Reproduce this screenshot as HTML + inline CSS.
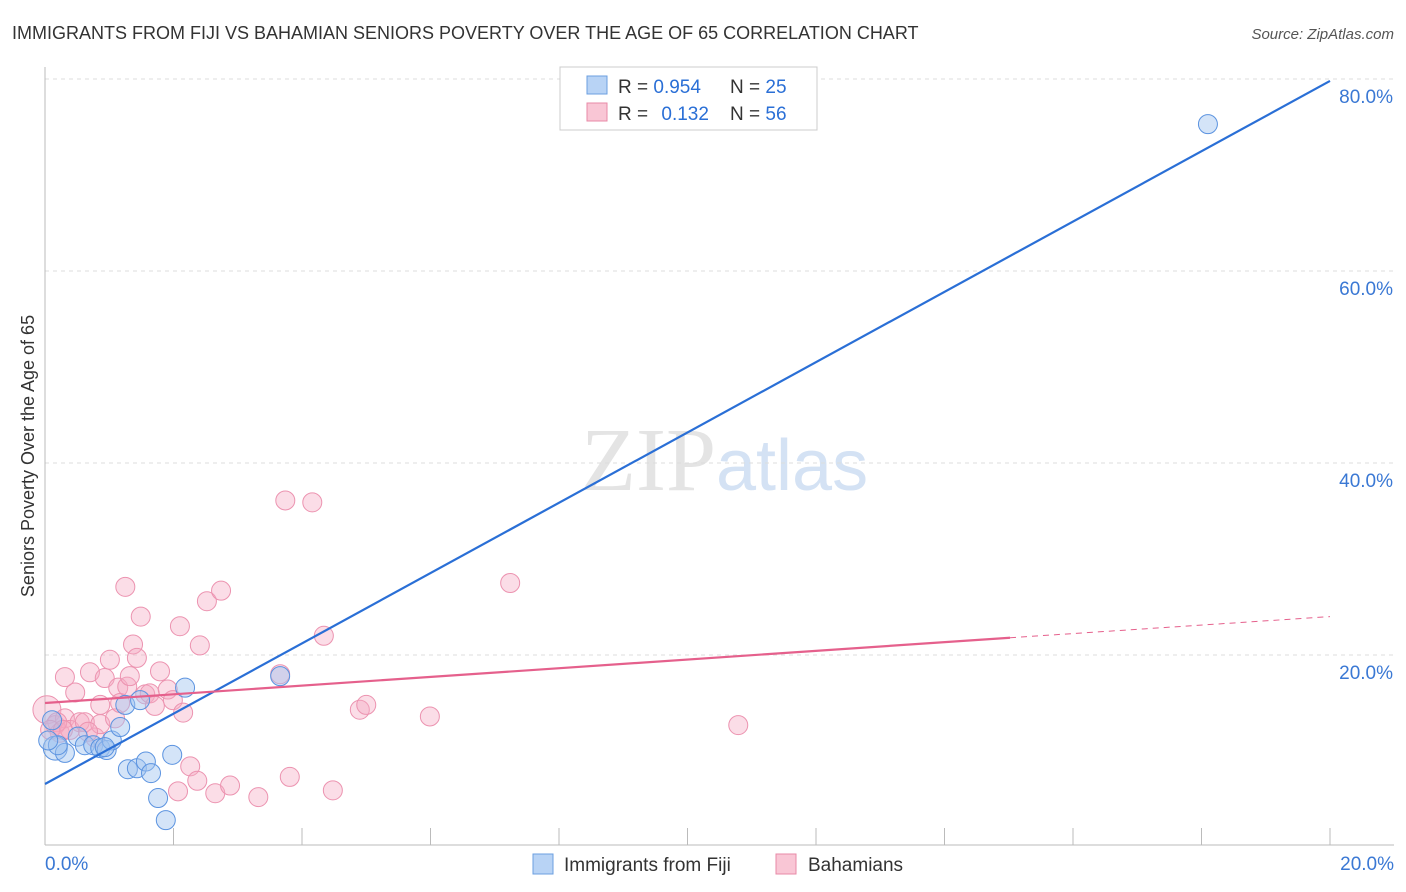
<!DOCTYPE html>
<html><head><meta charset="utf-8"><style>
body{margin:0;background:#fff;font-family:"Liberation Sans",sans-serif;}
svg{display:block}
</style></head><body>
<svg id="c" width="1406" height="892">
<text x="12" y="39" font-size="18" fill="#333">IMMIGRANTS FROM FIJI VS BAHAMIAN SENIORS POVERTY OVER THE AGE OF 65 CORRELATION CHART</text>
<text x="1394" y="39" font-size="15" fill="#555" font-style="italic" text-anchor="end">Source: ZipAtlas.com</text>
<text x="34" y="456" font-size="18" fill="#333" text-anchor="middle" transform="rotate(-90 34 456)">Seniors Poverty Over the Age of 65</text>
<text x="716" y="490" font-size="90" fill="#e4e4e4" text-anchor="end" font-family="Liberation Serif,serif">ZIP</text>
<text x="716" y="490" font-size="72" fill="#d4e2f4">atlas</text>
<g id="grid"></g><g id="pts"></g><g id="lines"></g>
<g>
<rect x="560" y="67" width="257" height="63" fill="#fff" stroke="#ccc"/>
<rect x="587" y="76" width="20" height="18" fill="#b8d3f5" stroke="#6b9fe0"/>
<rect x="587" y="103" width="20" height="18" fill="#f9c6d5" stroke="#e88aa7"/>
<text x="618" y="93" font-size="19" fill="#333">R = <tspan fill="#2a6fd6">0.954</tspan><tspan x="730">N = </tspan><tspan fill="#2a6fd6">25</tspan></text>
<text x="618" y="120" font-size="19" fill="#333">R = <tspan fill="#2a6fd6" dx="8">0.132</tspan><tspan x="730">N = </tspan><tspan fill="#2a6fd6">56</tspan></text>
</g>
<g>
<rect x="533" y="854" width="20" height="20" fill="#b8d3f5" stroke="#6b9fe0"/>
<text x="564" y="871" font-size="19" fill="#333">Immigrants from Fiji</text>
<rect x="776" y="854" width="20" height="20" fill="#f9c6d5" stroke="#e88aa7"/>
<text x="808" y="871" font-size="19" fill="#333">Bahamians</text>
</g>
</svg>
<script>
const xTicks=[0,20];
const yTicks=[20,40,60,80];
const fijiX=[0.16,0.31,0.2,0.51,0.62,0.75,0.86,0.96,1.04,1.17,1.25,1.48,1.29,1.43,1.57,1.65,1.76,1.88,1.98,2.18,3.66,18.1,0.11,0.05,0.93];
const fijiY=[10.3,9.8,10.6,11.5,10.6,10.6,10.3,10.1,11.1,12.5,14.8,15.3,8.1,8.2,8.9,7.7,5.1,2.8,9.6,16.6,17.8,75.3,13.2,11.1,10.4];
const bahX=[0.03,0.16,0.23,0.31,0.39,0.47,0.31,0.54,0.62,0.70,0.78,0.86,0.86,0.93,1.01,1.09,1.14,1.17,1.25,1.28,1.32,1.37,1.43,1.49,1.56,1.63,1.71,1.79,1.91,1.99,2.07,2.10,2.15,2.26,2.37,2.41,2.52,2.65,2.74,2.88,3.32,3.74,3.81,4.16,4.34,4.48,4.90,5.00,5.99,7.24,10.79,3.66,0.19,0.08,0.28,0.67];
const bahY=[14.3,12.7,11.9,13.4,12.2,16.1,17.7,13.0,13.0,18.2,11.4,12.8,14.8,17.6,19.5,13.4,16.6,15.0,27.1,16.7,17.8,21.1,19.7,24.0,15.9,16.0,14.7,18.3,16.4,15.3,5.8,23.0,14.0,8.4,6.9,21.0,25.6,5.6,26.7,6.4,5.2,36.1,7.3,35.9,22.0,5.9,14.3,14.8,13.6,27.5,12.7,18.0,13.0,12.2,12.2,12.0];
const fijiLine=[6.56,79.8];
const bahLine=[15.0,21.8,24.0];
const bahLineX=[0,15.02,20];
const NS='http://www.w3.org/2000/svg';
const X=v=>45+v*64.25, Y=v=>847-v*9.6;
function mk(t,a,p){const e=document.createElementNS(NS,t);for(const k in a)e.setAttribute(k,a[k]);p.appendChild(e);return e;}
const g=document.getElementById('grid');
yTicks.forEach(t=>{const l=mk('line',{x1:45,x2:1394,y1:Y(t),y2:Y(t),stroke:'#ddd','stroke-dasharray':'4,4'},g);


const tx=mk('text',{x:1393,y:Y(t)+24,'font-size':19,fill:'#3a78d4','text-anchor':'end'},g);tx.textContent=t.toFixed(1)+'%';

});
mk('line',{x1:45,x2:45,y1:67,y2:845,stroke:'#bbb'},g);
mk('line',{x1:45,x2:1394,y1:845,y2:845,stroke:'#bbb'},g);
for(let i=1;i<=10;i++){mk('line',{x1:X(i*2),x2:X(i*2),y1:828,y2:845,stroke:'#bbb'},g);}
const xl0=mk('text',{x:45,y:870,'font-size':19,fill:'#3a78d4'},g);xl0.textContent=xTicks[0].toFixed(1)+'%';


const xl1=mk('text',{x:1394,y:870,'font-size':19,fill:'#3a78d4','text-anchor':'end'},g);xl1.textContent=xTicks[1].toFixed(1)+'%';


const p=document.getElementById('pts');
bahX.forEach((x,i)=>{const c=mk('circle',{cx:X(x),cy:Y(bahY[i]),r:i==0?14:9.5,fill:'rgba(246,170,195,0.4)',stroke:'#ec93b0','stroke-width':1},p);

});
fijiX.forEach((x,i)=>{const c=mk('circle',{cx:X(x),cy:Y(fijiY[i]),r:i==0?12:9.5,fill:'rgba(160,195,240,0.45)',stroke:'#5b93e0','stroke-width':1},p);

});
const L=document.getElementById('lines');
const fl=mk('line',{x1:X(0),y1:Y(fijiLine[0]),x2:X(20),y2:Y(fijiLine[1]),stroke:'#2a6fd6','stroke-width':2.2},L);


const bl=mk('line',{x1:X(bahLineX[0]),y1:Y(bahLine[0]),x2:X(bahLineX[1]),y2:Y(bahLine[1]),stroke:'#e5608c','stroke-width':2.2},L);


const bd=mk('line',{x1:X(bahLineX[1]),y1:Y(bahLine[1]),x2:X(bahLineX[2]),y2:Y(bahLine[2]),stroke:'#e5608c','stroke-width':1,'stroke-dasharray':'6,5'},L);


</script>
</body></html>
